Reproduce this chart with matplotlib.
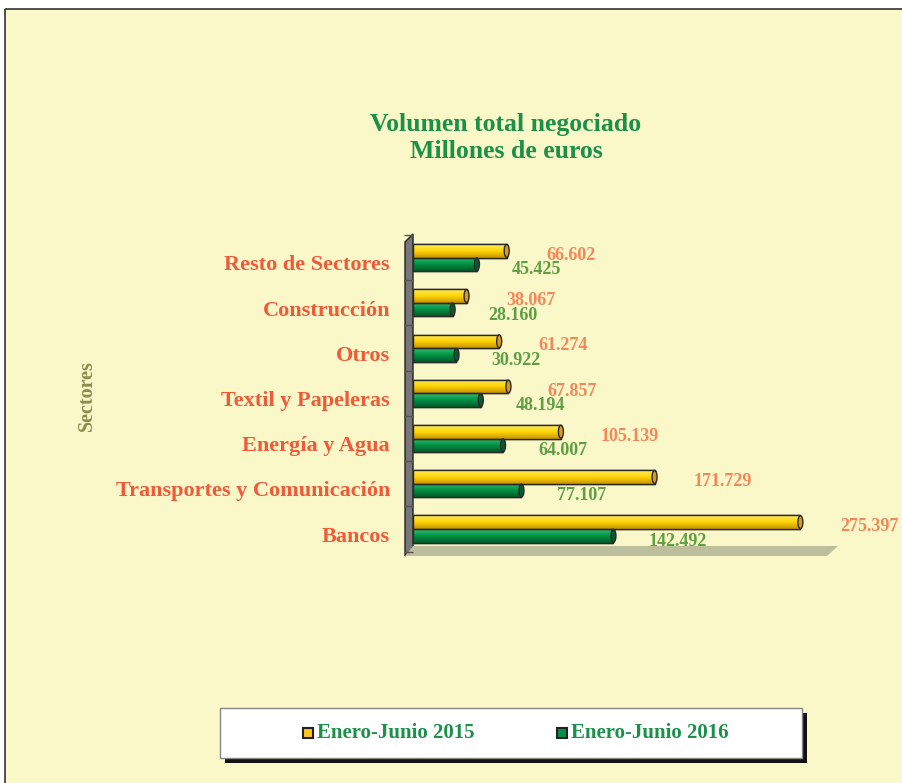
import numpy as np
import matplotlib
matplotlib.use('Agg')
import matplotlib.pyplot as plt
from matplotlib.patches import Rectangle, Polygon, Ellipse
from matplotlib.colors import LinearSegmentedColormap
from matplotlib.transforms import offset_copy

# Datos
sectores = ['Resto de Sectores', 'Construcción', 'Otros', 'Textil y Papeleras',
            'Energía y Agua', 'Transportes y Comunicación', 'Bancos']
valores_2015 = [66.602, 38.067, 61.274, 67.857, 105.139, 171.729, 275.397]
valores_2016 = [45.425, 28.160, 30.922, 48.194, 64.007, 77.107, 142.492]
series = ['Enero-Junio 2015', 'Enero-Junio 2016']

W, H = 902, 783
fondo = '#FAF7C8'
verde_titulo = '#1A9048'
rojo_cat = '#F05A38'
naranja_val = '#F4875A'
verde_val = '#5E9E45'
fuente = 'Liberation Serif'

fig = plt.figure(figsize=(W / 100, H / 100), dpi=100)
fig.patch.set_facecolor('white')

# Capa de fondo en coordenadas de pixel
bg = fig.add_axes([0, 0, 1, 1], zorder=0)
bg.set_xlim(0, W)
bg.set_ylim(H, 0)
bg.axis('off')
bg.add_patch(Rectangle((5, 9), W + 20, H + 20, facecolor=fondo, edgecolor='none'))
bg.plot([5, W + 20], [9, 9], color='#333333', lw=1.2, solid_capstyle='butt')
bg.plot([5, 5], [9, H + 20], color='#333333', lw=1.2, solid_capstyle='butt')

# Pared y suelo 3D
bg.add_patch(Polygon([(405, 242), (413, 234), (413, 548), (405, 556)], closed=True,
                     facecolor='#777777', edgecolor='#222222', lw=1))
bg.add_patch(Polygon([(413, 546), (838, 546), (827, 556), (405, 556)], closed=True,
                     facecolor='#BDBF9C', edgecolor='none'))

# Leyenda
bg.add_patch(Rectangle((225, 713), 582, 50, facecolor='#111111', edgecolor='none'))
bg.add_patch(Rectangle((220, 708), 582, 50, facecolor='white', edgecolor='#888888', lw=1))
for i, (nombre, col) in enumerate(zip(series, ['#FFC61A', '#009246'])):
    x0 = 303 + i * 254
    bg.add_patch(Rectangle((x0, 728), 10, 10, facecolor=col, edgecolor='#222222', lw=1.5))
    bg.text(x0 + 14, 733, nombre, color=verde_titulo, fontsize=15, fontweight='bold',
            family=fuente, va='center', ha='left')

# Titulo
fig.text(506 / W, 1 - 125 / H, 'Volumen total negociado', ha='center', va='center',
         color=verde_titulo, fontsize=18.5, fontweight='bold', family=fuente)
fig.text(506 / W, 1 - 152 / H, 'Millones de euros', ha='center', va='center',
         color=verde_titulo, fontsize=18.5, fontweight='bold', family=fuente)
fig.text(87 / W, 1 - 396 / H, 'Sectores', rotation=90, ha='center', va='center',
         color='#8C8C4C', fontsize=14.5, fontweight='bold', family=fuente)

# Grafico principal
ax_left, ax_right, ax_top, ax_bottom = 413, 835, 235, 551.6
ax = fig.add_axes([ax_left / W, 1 - ax_bottom / H, (ax_right - ax_left) / W,
                   (ax_bottom - ax_top) / H], zorder=1)
ax.patch.set_alpha(0)
y = np.arange(len(sectores))
ax.set_xlim(0, 300)
ax.set_ylim(len(sectores) - 0.5, -0.5)
alto = 0.3
px_x = 300 / (ax_right - ax_left)


def barra_cilindro(ax, yc, valor, colores, tapa):
    b = ax.barh(yc, valor, height=alto, color=colores[1], edgecolor='#2A2A2A', lw=1, zorder=3)[0]
    cmap = LinearSegmentedColormap.from_list('c', colores)
    im = ax.imshow(np.linspace(0, 1, 30).reshape(-1, 1), cmap=cmap, aspect='auto',
                   extent=[0, valor, yc + alto / 2, yc - alto / 2], zorder=3.5,
                   interpolation='bicubic')
    im.set_clip_path(b)
    ax.barh(yc, valor, height=alto, color='none', edgecolor='#2A2A2A', lw=1, zorder=4)
    ax.add_patch(Ellipse((valor, yc), 5 * px_x, alto * 0.95, facecolor=tapa,
                         edgecolor='#2A2A2A', lw=1, zorder=5))


amarillo = ['#FFEB60', '#FFD400', '#C99400']
verde = ['#30C070', '#009245', '#005A28']
etiqueta_tr = offset_copy(ax.transData, fig=fig, x=-23, y=0, units='dots')
for i in range(len(sectores)):
    barra_cilindro(ax, y[i] - alto / 2, valores_2015[i], amarillo, '#D99A20')
    barra_cilindro(ax, y[i] + alto / 2, valores_2016[i], verde, '#0A5A30')
    ax.text(valores_2015[i] + 28, y[i] - 0.05, f'{valores_2015[i]:.3f}', color=naranja_val,
            fontsize=13, fontweight='bold', family=fuente, va='center', ha='left')
    ax.text(valores_2016[i] + 25, y[i] + 0.27, f'{valores_2016[i]:.3f}', color=verde_val,
            fontsize=13, fontweight='bold', family=fuente, va='center', ha='left')
    ax.text(0, y[i] + 0.17, sectores[i], transform=etiqueta_tr, color=rojo_cat,
            fontsize=16, fontweight='bold', family=fuente, va='center', ha='right')

ax.set_xticks([])
ax.set_yticks([])
ax.set_yticks(np.arange(len(sectores) + 1) - 0.5, minor=True)
ax.tick_params(axis='y', which='minor', length=6.5, color='#555555', width=1)
for s in ax.spines.values():
    s.set_visible(False)

fig.savefig('out.png', dpi=100, facecolor=fig.get_facecolor())
